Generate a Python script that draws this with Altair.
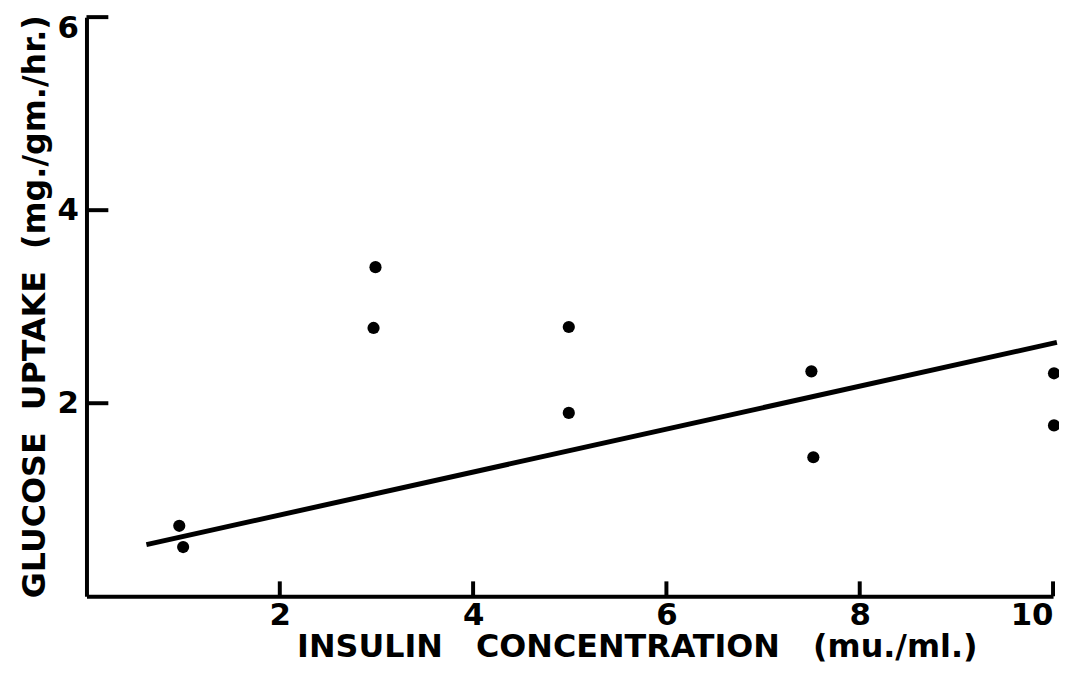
import altair as alt
import pandas as pd

# Data
insulin = [0.96, 1.0, 2.99, 2.97, 4.99, 4.99, 7.50, 7.52, 10.01, 10.01]
glucose = [0.73, 0.51, 3.41, 2.78, 2.79, 1.90, 2.33, 1.44, 2.31, 1.77]
line_x = [0.62, 10.04]
line_y = [0.535, 2.63]
x_ticks = [2, 4, 6, 8, 10]
y_ticks = [2, 4, 6]

W, H = 973, 583
FONT = "DejaVu Sans"
NB = "\u00a0"

pts = pd.DataFrame({"x": insulin, "y": glucose})
fit = pd.DataFrame({"x": line_x, "y": line_y})
xt = pd.DataFrame({"v": x_ticks})
yt = pd.DataFrame({"v": y_ticks})

xscale = alt.Scale(domain=[0, 10], nice=False, zero=False)
yscale = alt.Scale(domain=[0, 6], nice=False, zero=False)

xaxis = alt.Axis(
    values=x_ticks, format="d", ticks=False, grid=False, domainWidth=4, domainColor="black",
    labelFont=FONT, labelFontWeight="bold", labelFontSize=31, labelColor="black",
    labelPadding=4, labelFlush=True,
    title=f"INSULIN{NB}{NB}{NB}CONCENTRATION{NB}{NB}{NB}(mu./ml.)", titleFont=FONT,
    titleFontWeight="bold", titleFontSize=32, titleColor="black", titleX=554, titleY=61,
    titleBaseline="alphabetic", titleAlign="center",
)
yaxis = alt.Axis(
    values=y_ticks, format="d", ticks=False, grid=False, domainWidth=4, domainColor="black",
    labelFont=FONT, labelFontWeight="bold", labelFontSize=31, labelColor="black",
    labelPadding=8, labelFlush=False,
    labelOffset={"condition": {"test": "datum.value == 6", "value": 12}, "value": 0},
    title=f"GLUCOSE{NB}{NB}UPTAKE{NB}{NB}(mg./gm./hr.)", titleFont=FONT, titleFontWeight="bold",
    titleFontSize=32, titleColor="black", titleX=-42, titleY=291,
    titleBaseline="alphabetic", titleAlign="center", titleAngle=270,
)

base_pts = alt.Chart(pts).mark_circle(size=150, color="black", opacity=1).encode(
    x=alt.X("x:Q", scale=xscale, axis=xaxis),
    y=alt.Y("y:Q", scale=yscale, axis=yaxis),
)
line = alt.Chart(fit).mark_line(color="black", strokeWidth=5).encode(
    x=alt.X("x:Q", scale=xscale),
    y=alt.Y("y:Q", scale=yscale),
)
xtick = alt.Chart(xt).mark_rule(color="black", strokeWidth=4).encode(
    x=alt.X("v:Q", scale=xscale),
    y=alt.value(H), y2=alt.value(H - 15),
)
ytick = alt.Chart(yt).mark_rule(color="black", strokeWidth=4).encode(
    y=alt.Y("v:Q", scale=yscale),
    x=alt.value(0), x2=alt.value(22),
)

chart = alt.layer(line, base_pts, xtick, ytick).properties(
    width=W, height=H,
    background="white",
    autosize=alt.AutoSizeParams(type="none"),
    padding={"left": 79, "top": 7, "right": 6, "bottom": 68},
).configure_view(strokeWidth=0, stroke=None)

chart.save("out.html", embed_options={"renderer": "svg", "actions": False})
